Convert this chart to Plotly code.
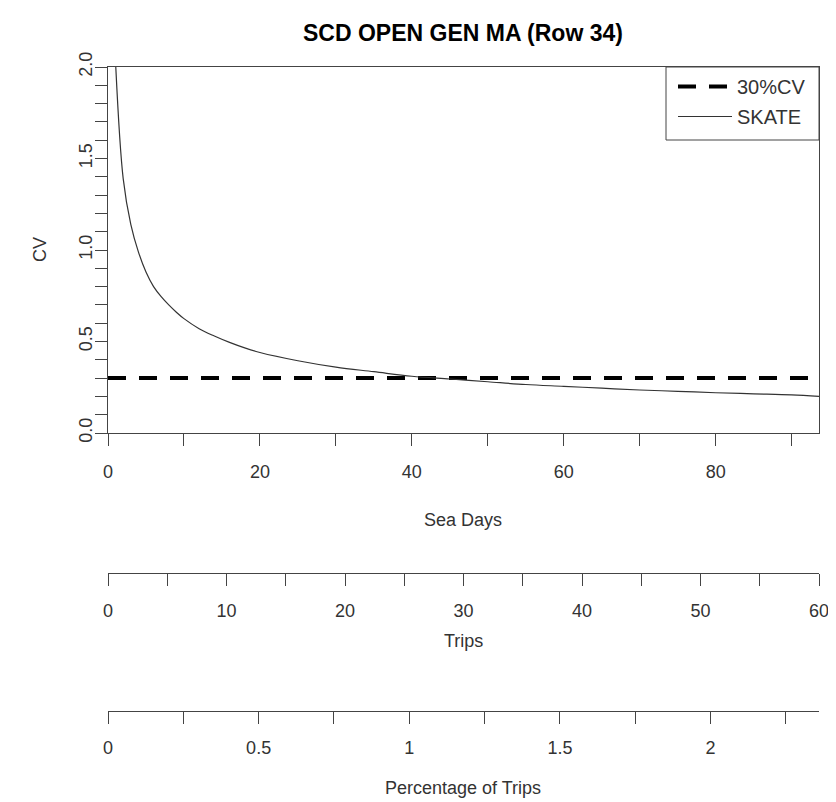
import plotly.graph_objects as go

sea_days = [1, 2, 3, 4, 5, 6, 7, 8, 9, 10, 12, 14, 16, 18, 20, 25, 30, 35, 40,
            45, 50, 55, 60, 65, 70, 75, 80, 85, 90, 93.6]
skate_cv = [2.02, 1.39, 1.14, 0.99, 0.88, 0.80, 0.745, 0.70, 0.66, 0.625, 0.57,
            0.53, 0.495, 0.465, 0.44, 0.395, 0.36, 0.335, 0.31, 0.295, 0.28,
            0.265, 0.255, 0.245, 0.235, 0.228, 0.22, 0.214, 0.208, 0.20]

target_x = [0, 93.6]
target_cv = [0.3, 0.3]

days_max = 93.6
trips_max = 60
pct_max = 2.36

font = "Liberation Sans, Arial, sans-serif"
ink = "#333333"
axc = "#444444"

# the page body has an 8px margin, so the figure is drawn 8px smaller
W, H = 828, 794
PL, PR, PT, PB = 100, 811, 59, 782   # paper box in figure pixels

def px(xp):   # page x -> paper fraction
    return (xp - 8 - PL) / (PR - PL)

def py(yp):   # page y -> paper fraction
    return (PB - (yp - 8)) / (PB - PT)

fig = go.Figure()
fig.add_trace(go.Scatter(x=target_x, y=target_cv, mode="lines", name="30%CV",
                         legendgroup="a",
                         line=dict(color="black", width=4, dash="18px,13px")))
fig.add_trace(go.Scatter(x=sea_days, y=skate_cv, mode="lines", name="SKATE",
                         legendgroup="b", line_shape="spline",
                         line=dict(color=ink, width=1.2)))
# invisible traces so the two extra x axes are drawn
fig.add_trace(go.Scatter(x=[0, trips_max], y=[0, 0], xaxis="x2", mode="lines",
                         opacity=0, showlegend=False, hoverinfo="skip"))
fig.add_trace(go.Scatter(x=[0, pct_max], y=[0, 0], xaxis="x3", mode="lines",
                         opacity=0, showlegend=False, hoverinfo="skip"))

tickfont = dict(family=font, size=18, color=ink)
common = dict(showgrid=False, zeroline=False, showline=True, linecolor=axc,
              linewidth=1, ticks="outside", ticklen=12, tickcolor=axc,
              tickfont=tickfont, automargin=False)

fig.update_layout(
    width=W, height=H,
    margin=dict(l=PL, r=W - PR, t=PT, b=H - PB),
    paper_bgcolor="white", plot_bgcolor="white",
    font=dict(family=font, color=ink),
    showlegend=True,
    legend=dict(x=px(673), y=1, xanchor="left", yanchor="top",
                borderwidth=0, bgcolor="rgba(0,0,0,0)",
                font=dict(family=font, size=20, color=ink),
                traceorder="grouped", tracegroupgap=1, itemwidth=54),
    xaxis=dict(range=[0, days_max], dtick=20, tick0=0, mirror=True,
               ticklabelstandoff=10,
               minor=dict(dtick=10, ticks="outside", ticklen=12, tickcolor=axc),
               **common),
    yaxis=dict(range=[0, 2], domain=[py(433), 1], dtick=0.5, tickformat=".1f",
               tickangle=-90, mirror=True, ticklabelstandoff=-4,
               minor=dict(dtick=0.1, ticks="outside", ticklen=12, tickcolor=axc),
               **common),
    xaxis2=dict(range=[0, trips_max], overlaying="x", anchor="free",
                position=py(573), side="bottom", dtick=10, tick0=0,
                ticklabelstandoff=9,
                minor=dict(dtick=5, ticks="outside", ticklen=12, tickcolor=axc),
                **common),
    xaxis3=dict(range=[0, pct_max], overlaying="x", anchor="free",
                position=py(711), side="bottom", dtick=0.5, tick0=0,
                ticklabelstandoff=8,
                minor=dict(dtick=0.25, ticks="outside", ticklen=12, tickcolor=axc),
                **common),
)

# legend frame
fig.add_shape(type="rect", xref="paper", yref="paper",
              x0=px(666), x1=px(819), y0=py(140), y1=py(67),
              line=dict(color=axc, width=1), fillcolor="white", layer="below")

labels = [
    ("SCD OPEN GEN MA (Row 34)", 463, 33, 23, True, 0),
    ("Sea Days", 463, 520, 18, False, 0),
    ("Trips", 463, 641, 18, False, 0),
    ("Percentage of Trips", 463, 788, 18, False, 0),
    ("CV", 40, 250, 18, False, -90),
]
for text, lx, ly, size, bold, ang in labels:
    fig.add_annotation(
        text="<b>%s</b>" % text if bold else text,
        xref="paper", yref="paper", x=px(lx), y=py(ly),
        xanchor="center", yanchor="middle", showarrow=False, textangle=ang,
        font=dict(family=font, size=size, color="black" if bold else ink),
    )

fig.write_html("out.html")
